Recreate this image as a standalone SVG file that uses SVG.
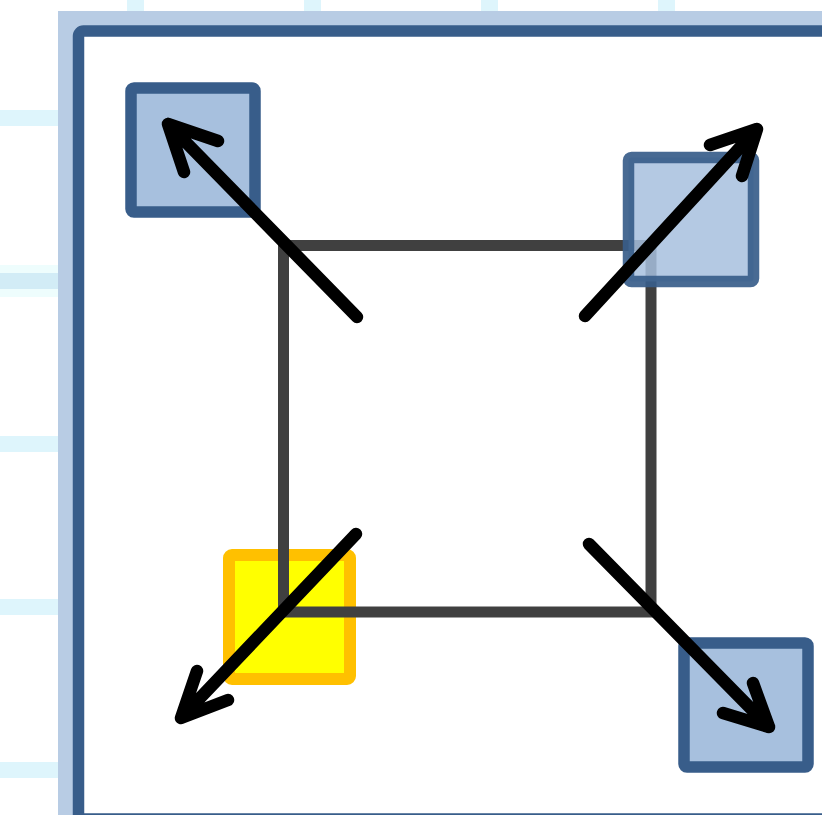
<svg xmlns="http://www.w3.org/2000/svg" width="822" height="815" viewBox="0 0 822 815">
<defs>
<style>
.band{fill:#DEF5FC}
.node{fill:#A7C0DE;stroke:#385D8A;stroke-width:11.5}
.arrow{fill:none;stroke:#000;stroke-width:12.5;stroke-linecap:round;stroke-linejoin:round}
</style>
</defs>
<rect x="0" y="0" width="822" height="815" fill="#FFFFFF"/>
<g id="grid">
<rect class="band" x="127" y="0" width="17" height="12"/>
<rect class="band" x="304" y="0" width="17" height="12"/>
<rect class="band" x="481" y="0" width="17" height="12"/>
<rect class="band" x="658" y="0" width="17" height="12"/>
<rect class="band" x="0" y="110" width="58" height="16"/>
<rect x="0" y="265" width="58" height="32" fill="#EEFDFD"/>
<rect x="0" y="273" width="58" height="16" fill="#D2ECF6"/>
<rect class="band" x="0" y="436" width="58" height="16"/>
<rect class="band" x="0" y="599" width="58" height="16"/>
<rect class="band" x="0" y="762" width="58" height="16"/>
</g>
<g id="frame">
<rect x="58" y="11" width="800" height="840" fill="#B8CCE4"/>
<rect x="78.5" y="31" width="780" height="788" rx="5" fill="#FFFFFF" stroke="#385D8A" stroke-width="11.5"/>
</g>
<g id="node-yellow">
<rect x="229" y="555" width="121" height="124" rx="3" fill="#FFFF00" stroke="#FFC000" stroke-width="12"/>
</g>
<g id="square">
<rect x="283.5" y="245.5" width="367.5" height="366.5" fill="none" stroke="#404040" stroke-width="11"/>
</g>
<g id="node-tl">
<rect class="node" x="131" y="88" width="124" height="124" rx="3"/>
</g>
<g id="node-tr">
<rect class="node" x="628.5" y="157.5" width="125" height="124" rx="3" fill-opacity="0.85" stroke-opacity="0.92"/>
</g>
<g id="node-br">
<rect class="node" x="684" y="643" width="124" height="124" rx="3"/>
</g>
<g id="connectors">
<path class="arrow" d="M357,317 L168,124 M218,141 L168,124 L184,172"/>
<path class="arrow" d="M585,316 L757,129 M710,145 L757,129 L742,176"/>
<path class="arrow" d="M356,534 L181,718 M197,671 L181,718 L228,700"/>
<path class="arrow" d="M589,544 L769,727 M753,683 L769,727 L723,713"/>
</g>
</svg>
